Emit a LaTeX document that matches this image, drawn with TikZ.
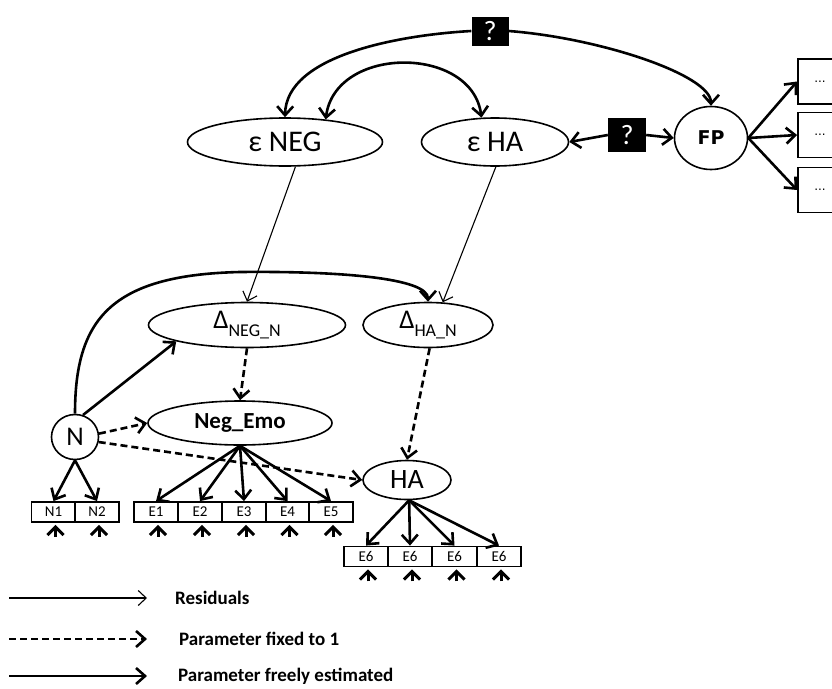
\documentclass[tikz,border=0pt]{standalone}
\usepackage{fontspec}
\setmainfont{Carlito}
\newfontfamily\dvs{DejaVu Sans}
\usetikzlibrary{shapes.geometric,arrows.meta,calc}

\tikzset{
  lat/.style={draw, ellipse, line width=1.6pt, inner sep=0pt},
  ind/.style={draw, rectangle, line width=1.8pt, minimum width=44pt,
    minimum height=20pt, inner sep=0pt, font=\fontsize{15}{15}\selectfont},
  outbox/.style={draw, rectangle, line width=1.8pt, minimum width=44pt,
    minimum height=45pt, inner sep=0pt, font=\dvs\fontsize{12}{12}\selectfont},
  qbox/.style={fill=black, text=white, inner sep=0pt,
    font=\fontsize{28}{28}\selectfont},
  barb/.tip={Straight Barb[length=9pt,width=16pt]},
  free/.style={line width=2.6pt, -barb},
  both/.style={line width=2.6pt, barb-barb},
  fixed/.style={free, dash pattern=on 7pt off 4pt},
  resid/.style={line width=1.1pt, -{Straight Barb[length=8pt,width=15pt]}},
  stub/.style={line width=3pt, -{Straight Barb[length=8pt,width=16pt]}, shorten >=2pt},
  legend/.style={anchor=west, inner sep=0pt, font=\bfseries\fontsize{19}{19}\selectfont},
}

\newcommand{\deltalabel}[1]{{\fontsize{27}{27}\selectfont Δ}\raisebox{-8pt}{\fontsize{18}{18}\selectfont #1}}

\begin{document}
\begin{tikzpicture}[x=1pt, y=-1pt]
\useasboundingbox (0,0) rectangle (832,688);
\clip (0,0) rectangle (832,688);

% residual latent variables and the outcome block
\node[lat, minimum width=195pt, minimum height=48pt, font=\fontsize{30}{30}\selectfont] (eneg) at (285,142) {ε NEG};
\node[lat, minimum width=147pt, minimum height=48pt, font=\fontsize{30}{30}\selectfont] (eha) at (495,142) {ε HA};
\node[lat, minimum width=73pt, minimum height=63pt, font=\dvs\bfseries\fontsize{19}{19}\selectfont] (fp) at (711,138) {FP};
\node[outbox] (o1) at (820,81.5) {...};
\node[outbox] (o2) at (820,135) {...};
\node[outbox] (o3) at (820,190) {...};

% change scores
\node[lat, minimum width=197pt, minimum height=45pt] (dneg) at (247,325) {\deltalabel{NEG\_N}};
\node[lat, minimum width=130pt, minimum height=45pt] (dha) at (428,325) {\deltalabel{HA\_N}};

% measurement models
\node[lat, minimum width=47pt, minimum height=45pt, font=\fontsize{27}{27}\selectfont] (n) at (75,437) {N};
\node[lat, minimum width=184pt, minimum height=44pt, font=\bfseries\fontsize{23}{23}\selectfont] (negemo) at (240,423) {Neg\_Emo};
\node[lat, minimum width=88pt, minimum height=39pt, font=\fontsize{28}{28}\selectfont] (ha) at (407,480) {HA};

\node[ind] (n1) at (53.5,512) {N1};
\node[ind] (n2) at (97,512) {N2};
\node[ind] (e1) at (156,512) {E1};
\node[ind] (e2) at (200,512) {E2};
\node[ind] (e3) at (244,512) {E3};
\node[ind] (e4) at (287.5,512) {E4};
\node[ind] (e5) at (331,512) {E5};
\node[ind] (h1) at (366,556.5) {E6};
\node[ind] (h2) at (410,556.5) {E6};
\node[ind] (h3) at (454.5,556.5) {E6};
\node[ind] (h4) at (499,556.5) {E6};

% unknown paths
\node[qbox, minimum width=37pt, minimum height=29pt] (q1) at (490,31) {?};
\node[qbox, minimum width=38pt, minimum height=34pt] (q2) at (627,135) {?};

\draw[free] (q1.west) .. controls (400,35) and (286,55) .. (eneg.north);
\draw[free] (q1.east) .. controls (600,38) and (711,75) .. (fp.north);
\draw[both] (eneg.29) .. controls (335,45) and (472,45) .. (eha.119);
\draw[line width=2.6pt, barb-] (eha.east) -- (q2.west);
\draw[free] (q2.east) -- (fp.west);

\draw[free] (fp.east) -- (o1.west);
\draw[free] (fp.east) -- (o2.west);
\draw[free] (fp.east) -- (o3.west);

% residual paths
\draw[resid] (eneg.-67) -- (dneg.north);
\draw[resid] (eha.-88) -- (dha.57);

% change score paths
\draw[free] (n.north) .. controls (75,320) and (110,275) .. (240,272)
  .. controls (340,271) and (428,278) .. (dha.north);
\draw[free] (n.70) -- (dneg.193);
\draw[fixed] (dneg.south) -- (negemo.north);
\draw[fixed] (dha.-86) -- (ha.north);
\draw[fixed] (n.8) -- (negemo.west);
\draw[fixed] (n.-12) -- (ha.west);

% loadings
\draw[free] (n.south) -- (n1.north);
\draw[free] (n.south) -- (n2.north);
\foreach \e in {e1,e2,e3,e4,e5}
  \draw[free] (negemo.south) -- (\e.north);
\foreach \e in {h1,h2,h3,h4}
  \draw[free] (ha.-84) -- (\e.north);

% indicator residuals
\foreach \e in {n1,n2,e1,e2,e3,e4,e5,h1,h2,h3,h4} {
  \coordinate (r\e) at ($(\e.south)+(2,14)$);
  \draw[stub] (r\e) -- ($(\e.south)+(2,0)$);
}

% key
\coordinate (ka1) at (9,598);   \coordinate (kb1) at (147,598);
\coordinate (ka2) at (9,639);   \coordinate (kb2) at (147,639);
\coordinate (ka3) at (9,676);   \coordinate (kb3) at (147,676);
\draw[resid] (ka1) -- (kb1);
\draw[fixed] (ka2) -- (kb2);
\draw[free] (ka3) -- (kb3);
\node[legend] (t1) at (175,598) {Residuals};
\node[legend] (t2) at (179,639) {Parameter fixed to 1};
\node[legend] (t3) at (178,676) {Parameter freely estimated};
\end{tikzpicture}
\end{document}
